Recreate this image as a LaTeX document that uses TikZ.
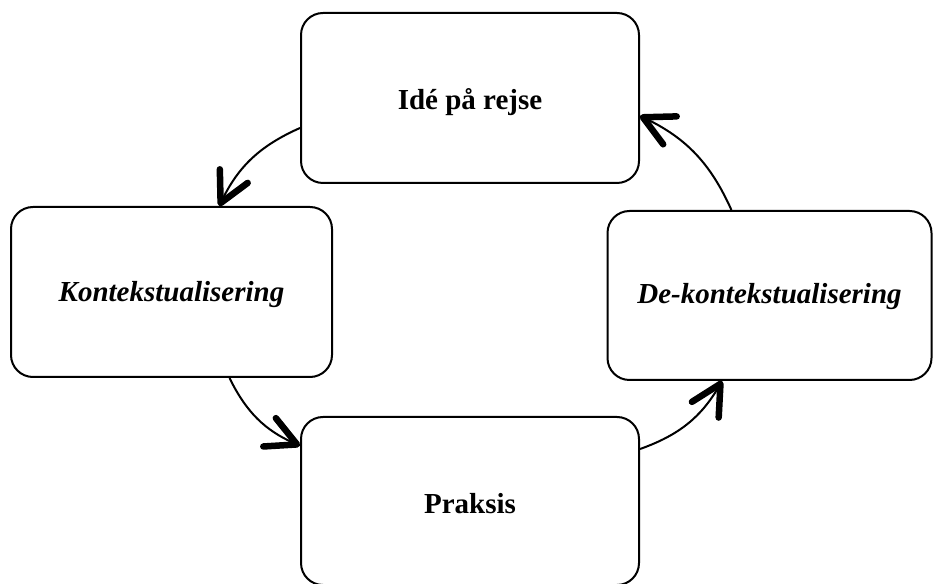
\documentclass[tikz,border=0pt]{standalone}
\usepackage{fontspec}
\setmainfont{Liberation Serif}
\usetikzlibrary{arrows.meta}
\tikzset{
  box/.style={draw, line width=2pt, rounded corners=22pt, inner sep=0pt, text depth=0pt},
  boldtxt/.style={font=\fontsize{29}{34}\selectfont\bfseries},
  itxt/.style={font=\fontsize{29}{34}\selectfont\bfseries\itshape},
  cyc/.style={line width=2pt, bend right=20,
    -{Straight Barb[length=30pt,width=31pt,line width=6.5pt,round]}}
}
\begin{document}
\begin{tikzpicture}[x=1pt,y=1pt]
\useasboundingbox (0,0) rectangle (933,583);
\node[box, boldtxt, minimum width=338pt, minimum height=170pt, text height=24pt] (top) at (470,485) {Idé på rejse};
\node[box, itxt, minimum width=321pt, minimum height=170pt, text height=20pt] (left) at (171.5,291) {Kontekstualisering};
\node[box, itxt, minimum width=324pt, minimum height=169pt, text height=16pt] (right) at (769.5,287.5) {De-kontekstualisering};
\node[box, boldtxt, minimum width=338pt, minimum height=168pt, text height=26pt] (bottom) at (470,82) {Praksis};
\draw[cyc] (top.190) to (left.61);
\draw[cyc] (left.304) to (bottom.162);
\draw[cyc] (bottom.17) to (right.241);
\draw[cyc] (right.114) to (top.354);
\end{tikzpicture}
\end{document}
